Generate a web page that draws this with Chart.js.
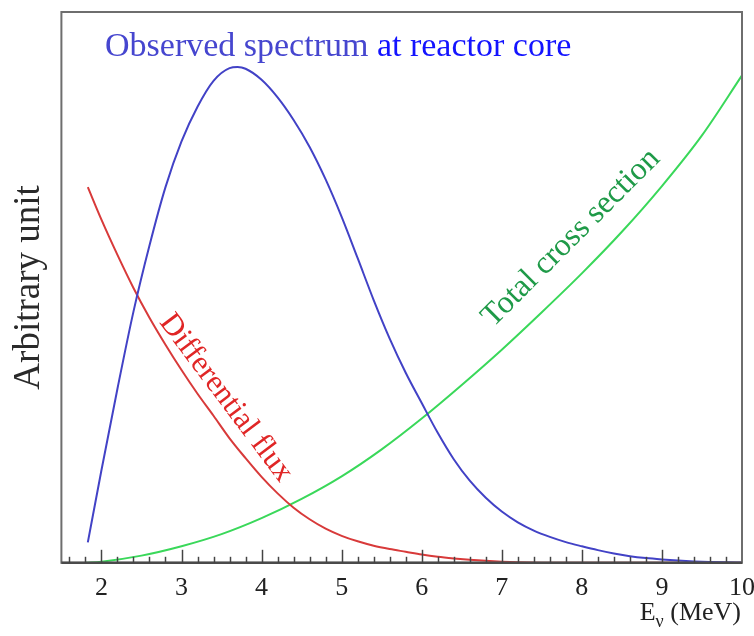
<!DOCTYPE html>
<html>
<head>
<meta charset="utf-8">
<script src="https://cdn.jsdelivr.net/npm/chart.js@4.4.1/dist/chart.umd.min.js"></script>
<style>
  html, body { margin: 0; padding: 0; background: #ffffff; }
  #wrap { width: 754px; height: 636px; position: relative; }
</style>
</head>
<body>
<div id="wrap"><canvas id="c"></canvas></div>
<script>
// ---- data ----
const xTickLabels = [2, 3, 4, 5, 6, 7, 8, 9, 10];

const spectrumE = [1.83, 2.0, 2.2, 2.4, 2.6, 2.8, 3.0, 3.2, 3.4, 3.6, 3.7, 3.8, 4.0, 4.2, 4.4, 4.6, 4.8, 5.0, 5.2, 5.4, 5.6, 5.8, 6.0, 6.2, 6.4, 6.6, 6.8, 7.0, 7.2, 7.4, 7.6, 7.8, 8.0, 8.2, 8.4, 8.6, 8.8, 9.0, 9.2, 9.4, 9.6, 9.8, 10];
const spectrumV = [3.7, 16.8, 31.6, 45.6, 57.6, 68.2, 76.5, 82.8, 87.5, 89.8, 90.0, 89.7, 87.7, 84.5, 80.4, 75.5, 69.6, 62.8, 55.3, 47.7, 40.7, 34.5, 29.0, 23.6, 18.8, 14.9, 11.8, 9.3, 7.35, 5.85, 4.7, 3.76, 3.0, 2.3, 1.7, 1.2, 0.85, 0.6, 0.4, 0.25, 0.15, 0.08, 0.04];

const fluxE = [1.83, 2.0, 2.2, 2.4, 2.6, 2.8, 3.0, 3.2, 3.4, 3.6, 3.8, 4.0, 4.2, 4.4, 4.6, 4.8, 5.0, 5.2, 5.4, 5.6, 5.8, 6.0, 6.2, 6.4, 6.6, 6.8, 7.0, 7.2, 7.5, 8.0, 10];
const fluxV = [68.2, 62.3, 55.9, 49.9, 44.5, 39.6, 35.0, 30.7, 26.7, 22.6, 19.0, 15.6, 12.6, 10.0, 7.9, 6.2, 4.9, 3.9, 3.1, 2.5, 2.0, 1.5, 1.1, 0.8, 0.55, 0.35, 0.2, 0.1, 0.03, 0, 0];

const xsecE = [1.8, 2.0, 2.5, 3.0, 3.5, 4.0, 4.5, 5.0, 5.5, 6.0, 6.5, 7.0, 7.5, 8.0, 8.5, 9.0, 9.5, 10];
const xsecV = [0, 0.2, 1.3, 3.0, 5.2, 8.1, 11.6, 15.7, 20.6, 26.2, 32.3, 38.7, 45.5, 52.55, 60.1, 68.4, 77.6, 88.5];

const SERIF = "'Liberation Serif', 'Times New Roman', serif";

function pts(xs, ys) { return xs.map((x, i) => ({ x: x, y: ys[i] })); }

// frame + inward ticks on the x axis
const framePlugin = {
  id: 'frame',
  afterDatasetsDraw(chart) {
    const { ctx, chartArea: a, scales } = chart;
    const xs = scales.x;
    ctx.save();
    ctx.strokeStyle = '#6e6e6e';
    ctx.lineWidth = 2;
    ctx.strokeRect(a.left, a.top, a.right - a.left, a.bottom - a.top);
    ctx.strokeStyle = '#4a4a4a';
    ctx.lineWidth = 2.5;
    ctx.beginPath();
    ctx.moveTo(a.left, a.bottom);
    ctx.lineTo(a.right, a.bottom);
    ctx.stroke();
    ctx.lineWidth = 1.5;
    ctx.strokeStyle = '#444444';
    for (let k = 8; k <= 50; k++) {
      const v = k / 5;
      if (v <= xs.min || v >= xs.max) continue;
      const px = Math.round(xs.getPixelForValue(v)) + 0.5;
      const major = (k % 5 === 0);
      ctx.beginPath();
      ctx.moveTo(px, a.bottom);
      ctx.lineTo(px, a.bottom - (major ? 13 : 6));
      ctx.stroke();
    }
    ctx.restore();
  }
};

const textPlugin = {
  id: 'texts',
  afterDraw(chart) {
    const ctx = chart.ctx;
    ctx.save();
    // heading
    ctx.textBaseline = 'alphabetic';
    ctx.textAlign = 'left';
    ctx.font = '34px ' + SERIF;
    const part1 = 'Observed spectrum';
    const part2 = ' at reactor core';
    ctx.fillStyle = '#4646cf';
    ctx.fillText(part1, 105, 56);
    const w1 = ctx.measureText(part1).width;
    ctx.fillStyle = '#1414ff';
    ctx.fillText(part2, 105 + w1, 56);

    // Differential flux
    ctx.save();
    ctx.translate(226, 398);
    ctx.rotate(53 * Math.PI / 180);
    ctx.textAlign = 'center';
    ctx.textBaseline = 'middle';
    ctx.font = '31px ' + SERIF;
    ctx.fillStyle = '#e02626';
    ctx.fillText('Differential flux', 0, 0);
    ctx.restore();

    // Total cross section
    ctx.save();
    ctx.translate(571, 238);
    ctx.rotate(-45 * Math.PI / 180);
    ctx.textAlign = 'center';
    ctx.textBaseline = 'middle';
    ctx.font = '32px ' + SERIF;
    ctx.fillStyle = '#1f9a48';
    ctx.fillText('Total cross section', 0, 0);
    ctx.restore();

    // x-axis title E_nu (MeV)
    ctx.fillStyle = '#222222';
    ctx.textBaseline = 'alphabetic';
    ctx.textAlign = 'left';
    const big = '26px ' + SERIF, small = '18px ' + SERIF;
    ctx.font = big;
    const wE = ctx.measureText('E').width;
    const wRest = ctx.measureText(' (MeV)').width;
    ctx.font = small;
    const wNu = ctx.measureText('\u03BD').width;
    const right = 741, base = 620;
    let x0 = right - (wE + wNu + wRest);
    ctx.font = big;
    ctx.fillText('E', x0, base);
    ctx.font = small;
    ctx.fillText('\u03BD', x0 + wE, base + 7);
    ctx.font = big;
    ctx.fillText(' (MeV)', x0 + wE + wNu, base);
    ctx.restore();
  }
};

new Chart(document.getElementById('c'), {
  type: 'line',
  data: {
    datasets: [
      { label: 'Observed spectrum', data: pts(spectrumE, spectrumV), borderColor: '#4242c6', borderWidth: 2, pointRadius: 0, cubicInterpolationMode: 'monotone', fill: false },
      { label: 'Differential flux', data: pts(fluxE, fluxV), borderColor: '#d83a3a', borderWidth: 2, pointRadius: 0, cubicInterpolationMode: 'monotone', fill: false },
      { label: 'Total cross section', data: pts(xsecE, xsecV), borderColor: '#3ad85a', borderWidth: 2, pointRadius: 0, cubicInterpolationMode: 'monotone', fill: false }
    ]
  },
  options: {
    responsive: true,
    maintainAspectRatio: false,
    animation: false,
    events: [],
    layout: { padding: { left: 0, right: 12, top: 12, bottom: 22 } },
    plugins: { legend: { display: false }, tooltip: { enabled: false }, title: { display: false } },
    scales: {
      x: {
        type: 'linear',
        min: 1.5,
        max: 10,
        grid: { display: false, drawTicks: false },
        border: { display: false },
        afterBuildTicks(scale) { scale.ticks = xTickLabels.map(v => ({ value: v })); },
        afterFit(scale) { scale.paddingRight = 0; scale.paddingLeft = 0; },
        ticks: { color: '#222222', font: { family: SERIF, size: 26 }, padding: 10, maxRotation: 0, autoSkip: false }
      },
      y: {
        type: 'linear',
        min: 0,
        max: 100,
        grid: { display: false, drawTicks: false },
        border: { display: false },
        ticks: { display: false },
        title: { display: true, text: 'Arbitrary unit', color: '#2a2a2a', font: { family: SERIF, size: 37 }, padding: { top: 7, bottom: 10 } }
      }
    }
  },
  plugins: [framePlugin, textPlugin]
});
</script>
</body>
</html>
